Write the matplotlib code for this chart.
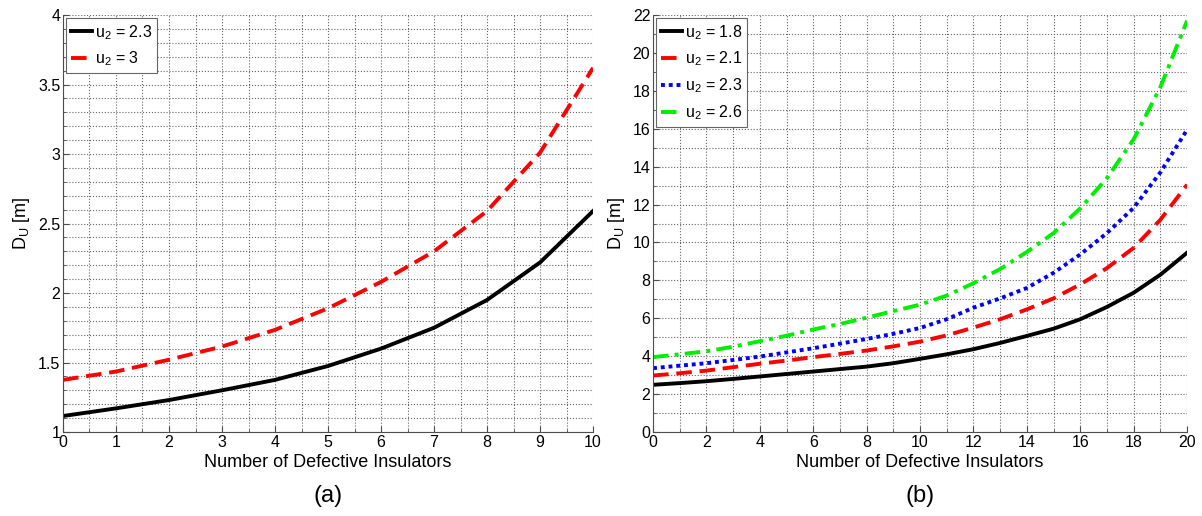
import numpy as np
import matplotlib
matplotlib.use("Agg")
import matplotlib.pyplot as plt
from matplotlib.ticker import MultipleLocator, FormatStrFormatter

plt.rcParams["font.family"] = ["Liberation Sans", "DejaVu Sans"]

# Data
# (a)
xa = list(range(0, 11))
du_a_23 = [1.115, 1.17, 1.23, 1.30, 1.375, 1.475, 1.60, 1.75, 1.95, 2.22, 2.59]
du_a_3 = [1.375, 1.435, 1.52, 1.615, 1.735, 1.89, 2.08, 2.30, 2.59, 3.01, 3.62]

# (b)
xb = list(range(0, 21))
du_b_18 = [2.49, 2.58, 2.68, 2.80, 2.93, 3.06, 3.19, 3.32, 3.45, 3.63, 3.86,
           4.10, 4.37, 4.70, 5.07, 5.45, 5.95, 6.60, 7.35, 8.30, 9.46]
du_b_21 = [2.98, 3.10, 3.24, 3.42, 3.60, 3.77, 3.95, 4.12, 4.30, 4.52, 4.77,
           5.10, 5.51, 5.95, 6.47, 7.05, 7.79, 8.65, 9.72, 11.2, 13.05]
du_b_23 = [3.37, 3.50, 3.63, 3.80, 3.98, 4.20, 4.42, 4.66, 4.91, 5.18, 5.49,
           5.95, 6.56, 7.05, 7.60, 8.40, 9.37, 10.5, 11.83, 13.7, 15.95]
du_b_26 = [3.95, 4.10, 4.26, 4.50, 4.79, 5.08, 5.41, 5.70, 6.03, 6.38, 6.72,
           7.20, 7.85, 8.60, 9.50, 10.5, 11.8, 13.4, 15.45, 18.2, 21.7]

fig = plt.figure(figsize=(12.02, 5.16), dpi=100)
ax1 = fig.add_axes([0.0524, 0.1628, 0.441, 0.808])
ax2 = fig.add_axes([0.5433, 0.1628, 0.4443, 0.808])

DASH = (0, (4, 2))
DOT = (0, (1, 1))
DASHDOT = (0, (4, 1.6, 1, 1.6))


def style_axes(ax):
    ax.grid(True, which="both", linestyle=":", color="0.4", linewidth=0.8)
    ax.set_axisbelow(True)
    ax.spines["top"].set_visible(False)
    ax.spines["right"].set_visible(False)
    for s in ("left", "bottom"):
        ax.spines[s].set_color("0.3")
    ax.tick_params(which="both", direction="in", labelsize=11.5, color="0.3")
    ax.tick_params(which="major", length=4, pad=2)
    ax.tick_params(which="minor", length=2)
    ax.yaxis.set_major_formatter(FormatStrFormatter("%g"))
    ax.set_xlabel("Number of Defective Insulators", fontsize=13, labelpad=3)
    ax.set_ylabel(r"$\mathregular{D_U}$ [m]", fontsize=13, labelpad=4)


def add_legend(ax):
    leg = ax.legend(loc="upper left", fontsize=11.5, handlelength=1.3, handletextpad=0.2,
                    borderaxespad=0.2, fancybox=False, framealpha=1, borderpad=0.3,
                    labelspacing=0.5)
    leg.get_frame().set_edgecolor("0.4")
    leg.get_frame().set_linewidth(0.8)


# ---------- (a) ----------
ax1.plot(xa, du_a_23, color="black", linewidth=2.8, label=r"$\mathregular{u_2}$ = 2.3")
ax1.plot(xa, du_a_3, color="red", linewidth=2.8, linestyle=DASH,
         label=r"$\mathregular{u_2}$ = 3")
ax1.set_xlim(0, 10)
ax1.set_ylim(1, 4)
ax1.xaxis.set_major_locator(MultipleLocator(1))
ax1.xaxis.set_minor_locator(MultipleLocator(0.5))
ax1.yaxis.set_major_locator(MultipleLocator(0.5))
ax1.yaxis.set_minor_locator(MultipleLocator(0.1))
style_axes(ax1)
add_legend(ax1)

# ---------- (b) ----------
ax2.plot(xb, du_b_18, color="black", linewidth=2.8, label=r"$\mathregular{u_2}$ = 1.8")
ax2.plot(xb, du_b_21, color="red", linewidth=2.8, linestyle=DASH,
         label=r"$\mathregular{u_2}$ = 2.1")
ax2.plot(xb, du_b_23, color="blue", linewidth=2.8, linestyle=DOT,
         label=r"$\mathregular{u_2}$ = 2.3")
ax2.plot(xb, du_b_26, color="#00ee00", linewidth=2.8, linestyle=DASHDOT,
         label=r"$\mathregular{u_2}$ = 2.6")
ax2.set_xlim(0, 20)
ax2.set_ylim(0, 22)
ax2.xaxis.set_major_locator(MultipleLocator(2))
ax2.xaxis.set_minor_locator(MultipleLocator(1))
ax2.yaxis.set_major_locator(MultipleLocator(2))
ax2.yaxis.set_minor_locator(MultipleLocator(1))
style_axes(ax2)
add_legend(ax2)

fig.text(0.273, 0.038, "(a)", fontsize=17, ha="center", va="center")
fig.text(0.7655, 0.038, "(b)", fontsize=17, ha="center", va="center")

fig.savefig("out.png", dpi=100)
